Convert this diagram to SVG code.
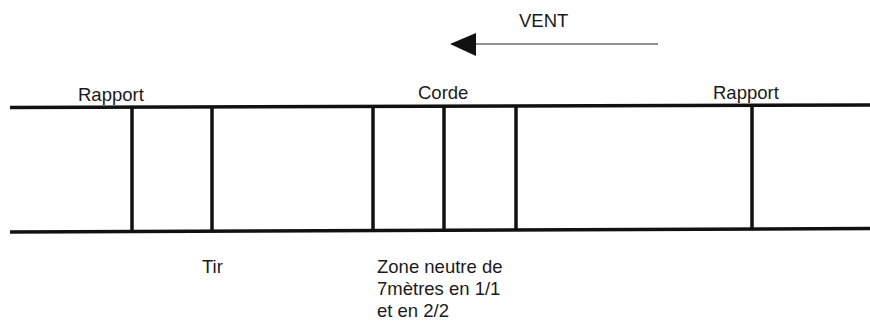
<svg xmlns="http://www.w3.org/2000/svg" width="870" height="321" viewBox="0 0 870 321">
<defs>
<style>
.t{font-family:"Liberation Sans",Arial,sans-serif;font-size:18.5px;fill:#1a1a1a}
.rail{stroke:#111;stroke-width:3.5;fill:none}
.post{stroke:#111;stroke-width:3.5;fill:none}
.wind{stroke:#222;stroke-width:1.2;fill:none}
</style>
</defs>
<rect width="870" height="321" fill="#fff"/>
<g id="connectors">
<line id="wind-arrow" class="wind" x1="658" y1="44" x2="476" y2="44"/>
<path d="M450,44 L476,33 L476,56 Z" fill="#111"/>
<line id="rail-top" class="rail" x1="10" y1="107.5" x2="870" y2="105"/>
<line id="rail-bottom" class="rail" x1="10" y1="232" x2="870" y2="228.5"/>
<line class="post" x1="132" y1="107" x2="132" y2="232"/>
<line class="post" x1="212" y1="107" x2="212" y2="231"/>
<line class="post" x1="373" y1="106" x2="373" y2="231"/>
<line class="post" x1="444" y1="106" x2="444" y2="230"/>
<line class="post" x1="516" y1="106" x2="516" y2="230"/>
<line class="post" x1="752" y1="105" x2="752" y2="229"/>
</g>
<g id="vent"><text class="t" x="519" y="27">VENT</text></g>
<g id="rapport-left"><text class="t" x="78" y="101">Rapport</text></g>
<g id="corde"><text class="t" x="418" y="99">Corde</text></g>
<g id="rapport-right"><text class="t" x="713" y="99">Rapport</text></g>
<g id="tir"><text class="t" x="202" y="273">Tir</text></g>
<g id="zone"><text class="t" x="377" y="273">Zone neutre de</text><text class="t" x="377" y="295">7mètres en 1/1</text><text class="t" x="377" y="317">et en 2/2</text></g>
</svg>
